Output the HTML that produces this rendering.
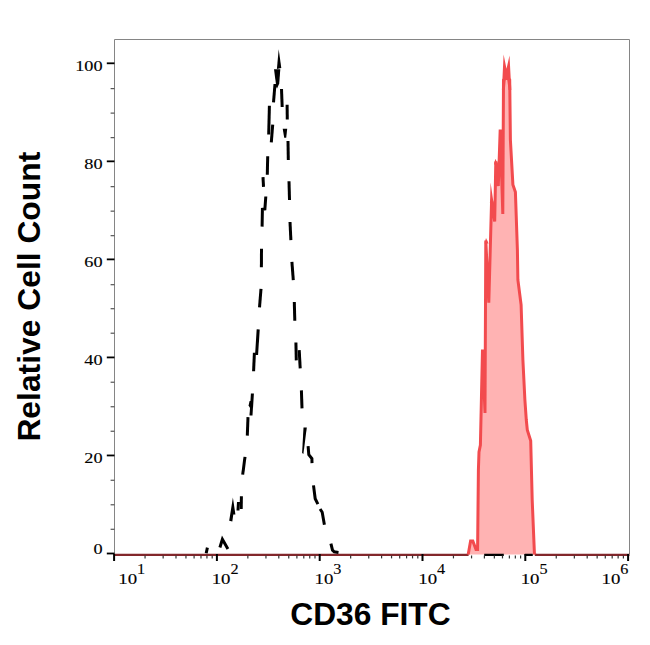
<!DOCTYPE html><html><head><meta charset="utf-8"><style>html,body{margin:0;padding:0;background:#fff;}svg{display:block;}</style></head><body>
<svg width="650" height="645" viewBox="0 0 650 645">
<rect x="0" y="0" width="650" height="645" fill="#fff"/>
<path d="M114.5 554 V39.5 H629.5 V554" fill="none" stroke="#858585" stroke-width="1"/>
<path d="M468.2 554.5 L470.6 541.0 L472.8 541.0 L476.0 549.5 L477.6 549.5 L478.4 470.0 L479.0 452.0 L480.4 445.0 L482.5 349.5 L485.0 413.0 L485.8 240.5 L488.8 302.8 L491.6 200.0 L494.7 221.5 L495.8 161.5 L498.3 186.0 L500.2 129.5 L502.8 214.0 L503.5 80.0 L506.5 77.0 L509.7 80.0 L510.4 140.0 L512.9 184.7 L515.4 192.0 L517.4 250.0 L517.9 280.0 L521.1 304.8 L522.9 360.0 L524.9 400.0 L526.3 420.0 L527.3 430.0 L530.7 440.7 L532.2 500.0 L534.4 553.0 L535.0 554.5 Z" fill="#ffb3b3" stroke="none"/>
<path d="M114.5 554.9 H468.6 M534.8 554.9 H629.5" stroke="#82272b" stroke-width="2.2" fill="none"/>
<path d="M484.2 554.9 H503.8 M524.7 554.9 H532.8" stroke="#000" stroke-width="2.4" fill="none"/>
<path d="M468.2 554.5 L470.6 541.0 L472.8 541.0 L476.0 549.5 L477.6 549.5 L478.4 470.0 L479.0 452.0 L480.4 445.0 L482.5 349.5 L485.0 413.0 L485.8 240.5 L488.8 302.8 L491.6 200.0 L494.7 221.5 L495.8 161.5 L498.3 186.0 L500.2 129.5 L502.8 214.0 L503.5 80.0 L506.5 77.0 L509.7 80.0 L510.4 140.0 L512.9 184.7 L515.4 192.0 L517.4 250.0 L517.9 280.0 L521.1 304.8 L522.9 360.0 L524.9 400.0 L526.3 420.0 L527.3 430.0 L530.7 440.7 L532.2 500.0 L534.4 553.0 L535.0 554.5" fill="none" stroke="#f24b4e" stroke-width="3" stroke-linejoin="miter" stroke-miterlimit="12"/>
<path d="M484.5 243.6 L486.0 238.0 L488.6 243.6 Z M489.8 202.8 L491.3 197.2 L493.9 202.8 Z M493.9 164.4 L495.4 158.8 L498.0 164.4 Z" fill="#f24b4e"/>
<path d="M501.9 90 L503.6 54.5 L506.5 68.7 L509.5 55.5 L511.3 90 L508.6 90 L507.3 80 L505.7 80 L504.8 90 Z" fill="#f24b4e"/>
<g fill="none" stroke="#000" stroke-width="3" stroke-linejoin="miter" stroke-miterlimit="10">
<path d="M275.0 84.0 L273.5 102.4"/>
<path d="M281.5 89.0 L282.2 107.0"/>
<path d="M269.4 105.7 L268.7 134.5"/>
<path d="M272.7 124.7 L271.3 142.4"/>
<path d="M287.1 104.8 L287.3 119.6"/>
<path d="M288.0 141.0 L288.3 159.9"/>
<path d="M267.7 156.2 L267.3 174.7"/>
<path d="M263.0 177.1 L263.5 186.8"/>
<path d="M265.8 196.5 L264.9 208.9 L262.4 209.3 L262.1 226.6"/>
<path d="M289.0 181.2 L289.5 200.0"/>
<path d="M290.0 222.0 L290.9 240.1"/>
<path d="M261.5 248.8 L261.4 267.2"/>
<path d="M291.9 261.8 L293.3 280.2"/>
<path d="M261.0 288.9 L259.5 307.3"/>
<path d="M294.3 302.0 L294.8 320.7"/>
<path d="M258.2 329.4 L256.6 355.0"/>
<path d="M254.4 352.8 L253.6 371.2"/>
<path d="M295.9 342.5 L296.3 360.4"/>
<path d="M299.2 350.1 L300.2 368.3"/>
<path d="M252.4 393.5 L251.0 415.5"/>
<path d="M248.0 417.1 L247.3 435.6"/>
<path d="M301.4 390.4 L302.0 408.4"/>
<path d="M308.1 446.2 L308.8 454.6 L311.9 458.5 L312.0 463.1"/>
<path d="M245.0 456.9 L242.7 474.6"/>
<path d="M313.5 485.4 L315.2 498.7 L317.9 504.1"/>
<path d="M320.1 509.0 L322.2 512.2 L324.4 524.7"/>
<path d="M330.9 543.7 L332.5 550.2 L334.2 551.8 L338.5 552.4"/>
<path d="M238.5 502.0 L238.0 510.5"/>
<path d="M241.4 496.2 L241.2 509.0"/>
<path d="M219.9 547.5 L222.4 539.2 L227.9 549.0"/>
<path d="M207.4 547.6 L206.2 553.2"/>
</g>
<g fill="#000" stroke="none">
<path d="M276.9 69.0 L278.7 49.2 L281.3 68.0 Z"/>
<path d="M274.0 69.2 L280.3 69.2 L279.2 84.0 L276.0 84.5 Z"/>
<path d="M274.5 84.0 L279.0 84.0 L277.0 88.5 Z"/>
<path d="M282.7 128.7 L287.2 128.7 L286.2 137.8 L284.2 137.8 Z"/>
<path d="M303.5 427.5 L306.8 427.5 L303.4 454.0 L302.1 453.0 Z"/>
<path d="M249.6 401.0 L251.5 401.0 L251.2 410.0 L248.6 405.5 Z"/>
<path d="M232.9 497.4 L235.4 514.4 L233.3 514.6 L232.3 521.5 L229.2 520.8 Z"/>
</g>
<g stroke="#000" fill="none">
<line x1="106.8" y1="553.50" x2="114.5" y2="553.50" stroke-width="1.8"/>
<line x1="106.8" y1="455.46" x2="114.5" y2="455.46" stroke-width="1.8"/>
<line x1="106.8" y1="357.42" x2="114.5" y2="357.42" stroke-width="1.8"/>
<line x1="106.8" y1="259.38" x2="114.5" y2="259.38" stroke-width="1.8"/>
<line x1="106.8" y1="161.34" x2="114.5" y2="161.34" stroke-width="1.8"/>
<line x1="106.8" y1="63.30" x2="114.5" y2="63.30" stroke-width="1.8"/>
</g><g stroke="#555" fill="none">
<line x1="110.6" y1="529.29" x2="114.5" y2="529.29" stroke-width="1.2"/>
<line x1="110.6" y1="504.78" x2="114.5" y2="504.78" stroke-width="1.2"/>
<line x1="110.6" y1="480.27" x2="114.5" y2="480.27" stroke-width="1.2"/>
<line x1="110.6" y1="431.25" x2="114.5" y2="431.25" stroke-width="1.2"/>
<line x1="110.6" y1="406.74" x2="114.5" y2="406.74" stroke-width="1.2"/>
<line x1="110.6" y1="382.23" x2="114.5" y2="382.23" stroke-width="1.2"/>
<line x1="110.6" y1="333.21" x2="114.5" y2="333.21" stroke-width="1.2"/>
<line x1="110.6" y1="308.70" x2="114.5" y2="308.70" stroke-width="1.2"/>
<line x1="110.6" y1="284.69" x2="114.5" y2="284.69" stroke-width="1.2"/>
<line x1="110.6" y1="235.67" x2="114.5" y2="235.67" stroke-width="1.2"/>
<line x1="110.6" y1="211.16" x2="114.5" y2="211.16" stroke-width="1.2"/>
<line x1="110.6" y1="186.65" x2="114.5" y2="186.65" stroke-width="1.2"/>
<line x1="110.6" y1="137.63" x2="114.5" y2="137.63" stroke-width="1.2"/>
<line x1="110.6" y1="113.12" x2="114.5" y2="113.12" stroke-width="1.2"/>
<line x1="110.6" y1="88.61" x2="114.5" y2="88.61" stroke-width="1.2"/>
</g><g stroke="#000" fill="none">
<line x1="114.10" y1="554" x2="114.10" y2="561" stroke-width="2"/>
<line x1="216.90" y1="554" x2="216.90" y2="561" stroke-width="2"/>
<line x1="319.70" y1="554" x2="319.70" y2="561" stroke-width="2"/>
<line x1="422.50" y1="554" x2="422.50" y2="561" stroke-width="2"/>
<line x1="525.30" y1="554" x2="525.30" y2="561" stroke-width="2"/>
<line x1="628.10" y1="554" x2="628.10" y2="561" stroke-width="2"/>
</g><g stroke="#333" fill="none">
<line x1="145.05" y1="555.5" x2="145.05" y2="558.4" stroke-width="1.2"/>
<line x1="163.15" y1="555.5" x2="163.15" y2="558.4" stroke-width="1.2"/>
<line x1="175.99" y1="555.5" x2="175.99" y2="558.4" stroke-width="1.2"/>
<line x1="185.95" y1="555.5" x2="185.95" y2="558.4" stroke-width="1.2"/>
<line x1="194.09" y1="555.5" x2="194.09" y2="558.4" stroke-width="1.2"/>
<line x1="200.98" y1="555.5" x2="200.98" y2="558.4" stroke-width="1.2"/>
<line x1="206.94" y1="555.5" x2="206.94" y2="558.4" stroke-width="1.2"/>
<line x1="212.20" y1="555.5" x2="212.20" y2="558.4" stroke-width="1.2"/>
<line x1="247.85" y1="555.5" x2="247.85" y2="558.4" stroke-width="1.2"/>
<line x1="265.95" y1="555.5" x2="265.95" y2="558.4" stroke-width="1.2"/>
<line x1="278.79" y1="555.5" x2="278.79" y2="558.4" stroke-width="1.2"/>
<line x1="288.75" y1="555.5" x2="288.75" y2="558.4" stroke-width="1.2"/>
<line x1="296.89" y1="555.5" x2="296.89" y2="558.4" stroke-width="1.2"/>
<line x1="303.78" y1="555.5" x2="303.78" y2="558.4" stroke-width="1.2"/>
<line x1="309.74" y1="555.5" x2="309.74" y2="558.4" stroke-width="1.2"/>
<line x1="315.00" y1="555.5" x2="315.00" y2="558.4" stroke-width="1.2"/>
<line x1="350.65" y1="555.5" x2="350.65" y2="558.4" stroke-width="1.2"/>
<line x1="368.75" y1="555.5" x2="368.75" y2="558.4" stroke-width="1.2"/>
<line x1="381.59" y1="555.5" x2="381.59" y2="558.4" stroke-width="1.2"/>
<line x1="391.55" y1="555.5" x2="391.55" y2="558.4" stroke-width="1.2"/>
<line x1="399.69" y1="555.5" x2="399.69" y2="558.4" stroke-width="1.2"/>
<line x1="406.58" y1="555.5" x2="406.58" y2="558.4" stroke-width="1.2"/>
<line x1="412.54" y1="555.5" x2="412.54" y2="558.4" stroke-width="1.2"/>
<line x1="417.80" y1="555.5" x2="417.80" y2="558.4" stroke-width="1.2"/>
<line x1="453.45" y1="555.5" x2="453.45" y2="558.4" stroke-width="1.2"/>
<line x1="471.55" y1="555.5" x2="471.55" y2="558.4" stroke-width="1.2"/>
<line x1="484.39" y1="555.5" x2="484.39" y2="558.4" stroke-width="1.2"/>
<line x1="494.35" y1="555.5" x2="494.35" y2="558.4" stroke-width="1.2"/>
<line x1="502.49" y1="555.5" x2="502.49" y2="558.4" stroke-width="1.2"/>
<line x1="509.38" y1="555.5" x2="509.38" y2="558.4" stroke-width="1.2"/>
<line x1="515.34" y1="555.5" x2="515.34" y2="558.4" stroke-width="1.2"/>
<line x1="520.60" y1="555.5" x2="520.60" y2="558.4" stroke-width="1.2"/>
<line x1="556.25" y1="555.5" x2="556.25" y2="558.4" stroke-width="1.2"/>
<line x1="574.35" y1="555.5" x2="574.35" y2="558.4" stroke-width="1.2"/>
<line x1="587.19" y1="555.5" x2="587.19" y2="558.4" stroke-width="1.2"/>
<line x1="597.15" y1="555.5" x2="597.15" y2="558.4" stroke-width="1.2"/>
<line x1="605.29" y1="555.5" x2="605.29" y2="558.4" stroke-width="1.2"/>
<line x1="612.18" y1="555.5" x2="612.18" y2="558.4" stroke-width="1.2"/>
<line x1="618.14" y1="555.5" x2="618.14" y2="558.4" stroke-width="1.2"/>
<line x1="623.40" y1="555.5" x2="623.40" y2="558.4" stroke-width="1.2"/>
</g>
<g font-family="Liberation Serif" font-size="14.5" fill="#000" stroke="#000" stroke-width="0.12" text-anchor="end">
<text transform="translate(102.6 463.26) scale(1.26 1)">20</text>
<text transform="translate(102.6 365.22) scale(1.26 1)">40</text>
<text transform="translate(102.6 267.18) scale(1.26 1)">60</text>
<text transform="translate(102.6 169.14) scale(1.26 1)">80</text>
<text transform="translate(102.6 71.10) scale(1.26 1)">100</text>
<text transform="translate(102.6 553.8) scale(1.26 1)">0</text>
</g>
<g font-family="Liberation Serif" font-size="14.5" fill="#000" stroke="#000" stroke-width="0.12">
<text transform="translate(118.30 583.8) scale(1.3 1)">10</text>
<text transform="translate(137.10 573.6) scale(1.12 1)">1</text>
<text transform="translate(211.70 583.8) scale(1.3 1)">10</text>
<text transform="translate(230.50 573.6) scale(1.12 1)">2</text>
<text transform="translate(314.50 583.8) scale(1.3 1)">10</text>
<text transform="translate(333.30 573.6) scale(1.12 1)">3</text>
<text transform="translate(418.30 583.8) scale(1.3 1)">10</text>
<text transform="translate(437.10 573.6) scale(1.12 1)">4</text>
<text transform="translate(520.70 583.8) scale(1.3 1)">10</text>
<text transform="translate(539.50 573.6) scale(1.12 1)">5</text>
<text transform="translate(601.50 583.8) scale(1.3 1)">10</text>
<text transform="translate(620.30 573.6) scale(1.12 1)">6</text>
</g>
<text transform="translate(40.2 441.6) rotate(-90) scale(1.043 1)" font-family="Liberation Sans" font-weight="bold" font-size="30.5" fill="#000">Relative Cell Count</text>
<text transform="translate(290.3 624.6) scale(1.04 1)" font-family="Liberation Sans" font-weight="bold" font-size="30.5" fill="#000">CD36 FITC</text>
</svg></body></html>
